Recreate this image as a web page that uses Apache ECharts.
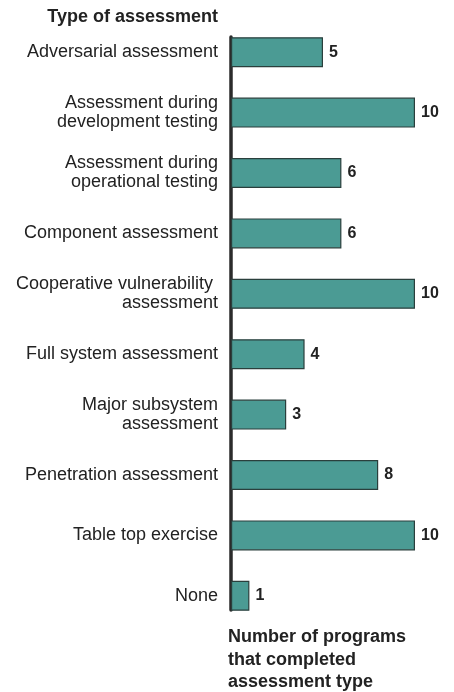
<!DOCTYPE html>
<html>
<head>
<meta charset="utf-8">
<script src="https://cdn.jsdelivr.net/npm/echarts@6/dist/echarts.min.js"></script>
<style>
html,body{margin:0;padding:0;background:#fff;}
#chart{width:454px;height:692px;}
</style>
</head>
<body>
<div id="chart"></div>
<script>
const categories = [
  "Adversarial assessment",
  "Assessment during\ndevelopment testing",
  "Assessment during\noperational testing",
  "Component assessment",
  "Cooperative vulnerability \nassessment",
  "Full system assessment",
  "Major subsystem\nassessment",
  "Penetration assessment",
  "Table top exercise",
  "None"
];
const values = [5, 10, 6, 6, 10, 4, 3, 8, 10, 1];
const yAxisTitle = "Type of assessment";
const xAxisTitle = "Number of programs\nthat completed\nassessment type";

const FONT = "'Liberation Sans', Arial, Helvetica, sans-serif";
const chart = echarts.init(document.getElementById('chart'), null, {renderer: 'canvas'});
chart.setOption({
  animation: false,
  backgroundColor: '#ffffff',
  title: [
    {
      text: yAxisTitle,
      right: 236,
      top: 8,
      padding: 0,
      textStyle: {fontFamily: FONT, fontSize: 18, fontWeight: 'bold', color: '#222'}
    },
    {
      text: xAxisTitle,
      left: 228,
      top: 626,
      padding: 0,
      textStyle: {fontFamily: FONT, fontSize: 18, fontWeight: 'bold', color: '#222', lineHeight: 22.5}
    }
  ],
  grid: [
    {left: 231, top: 22, width: 184, height: 604, containLabel: false},
    {left: 231, top: 37, width: 184, height: 573, containLabel: false}
  ],
  xAxis: [
    {type: 'value', gridIndex: 0, min: 0, max: 10, show: false},
    {type: 'value', gridIndex: 1, min: 0, max: 10, show: false}
  ],
  yAxis: [
    {
      type: 'category', gridIndex: 0, data: categories, inverse: true,
      axisLine: {show: false}, axisTick: {show: false}, splitLine: {show: false},
      axisLabel: {
        fontFamily: FONT, fontSize: 18, color: '#222', lineHeight: 19,
        margin: 13, align: 'right', padding: [3, 0, 0, 0]
      }
    },
    {
      type: 'value', gridIndex: 1, min: 0, max: 1,
      axisLine: {show: true, lineStyle: {color: '#2b2b2b', width: 3.5}},
      axisTick: {show: false}, axisLabel: {show: false}, splitLine: {show: false}
    }
  ],
  series: [
    {
      type: 'bar',
      xAxisIndex: 0, yAxisIndex: 0,
      data: values,
      barWidth: 30,
      z: 1,
      itemStyle: {color: '#4b9b94', borderColor: '#2a3f3c', borderWidth: 1.2},
      label: {
        show: true, position: 'right', distance: 6,
        fontFamily: FONT, fontSize: 16, fontWeight: 'bold', color: '#222'
      }
    }
  ]
});
</script>
</body>
</html>
